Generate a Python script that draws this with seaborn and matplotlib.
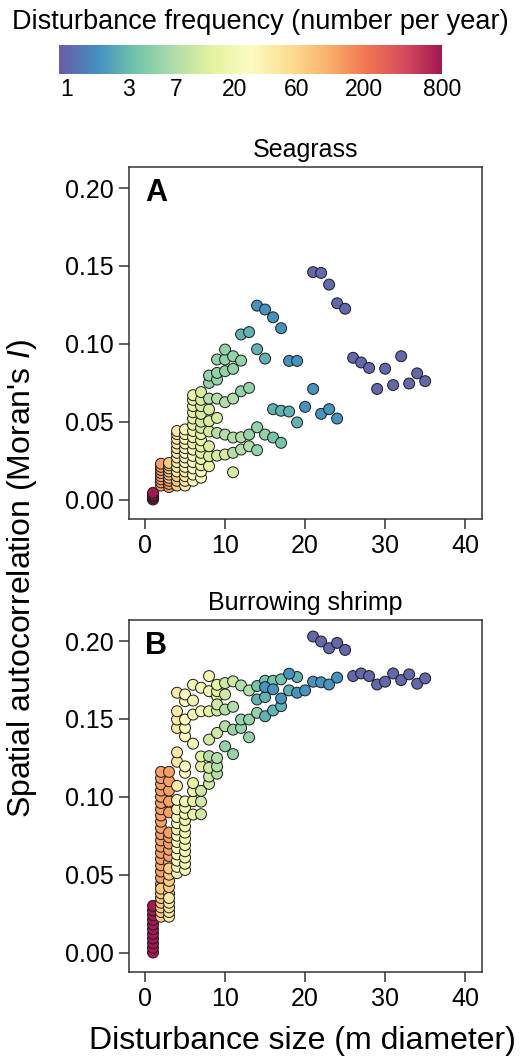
import numpy as np
import pandas as pd
import matplotlib
matplotlib.use("Agg")
import matplotlib.pyplot as plt
import seaborn as sns
from matplotlib.colors import LogNorm, ListedColormap
from matplotlib.cm import ScalarMappable
from matplotlib.ticker import NullLocator, FixedLocator

# ---------------- data ----------------
FREQ_TICKS = [1, 3, 7, 20, 60, 200, 800]
SIZE_TICKS = [0, 10, 20, 30, 40]
MORAN_TICKS = [0.00, 0.05, 0.10, 0.15, 0.20]

# Panel A: Seagrass  (size, Moran's I) per frequency level
A_800_x = [1, 1, 1, 1, 1]
A_800_y = [0.000, 0.001, 0.002, 0.003, 0.0043]
A_130_x = [2, 2, 2, 2, 2, 2, 2, 2, 3, 3, 3]
A_130_y = [0.009, 0.011, 0.013, 0.015, 0.017, 0.019, 0.021, 0.023, 0.008, 0.010, 0.012]
A_70_x = [3, 3, 3, 3, 3, 3, 4, 4, 4]
A_70_y = [0.014, 0.016, 0.018, 0.020, 0.022, 0.0235, 0.009, 0.012, 0.015]
A_40_x = [4, 4, 4, 4, 4, 4, 4, 4, 4, 4, 5, 5, 5, 5]
A_40_y = [0.018, 0.021, 0.024, 0.027, 0.030, 0.033, 0.036, 0.039, 0.042, 0.044,
          0.009, 0.012, 0.015, 0.018]
A_25_x = [5, 5, 5, 5, 5, 5, 5, 5, 5, 6, 6, 6, 6, 6, 6, 7, 7]
A_25_y = [0.021, 0.024, 0.027, 0.030, 0.033, 0.036, 0.039, 0.042, 0.045,
          0.012, 0.016, 0.020, 0.024, 0.028, 0.032, 0.014, 0.018]
A_16_x = [6, 6, 6, 6, 6, 6, 6, 6, 6, 7, 7, 7, 7, 7, 7, 8]
A_16_y = [0.036, 0.040, 0.044, 0.048, 0.052, 0.056, 0.060, 0.064, 0.067,
          0.022, 0.026, 0.030, 0.034, 0.038, 0.042, 0.0214]
A_11_x = [7, 7, 7, 7, 7, 7, 8, 8, 8, 8, 8, 9, 9, 10, 11]
A_11_y = [0.046, 0.050, 0.055, 0.060, 0.064, 0.069, 0.0278, 0.0342, 0.0437, 0.0503,
          0.0578, 0.0282, 0.0524, 0.0289, 0.0175]
A_7_x = [8, 9, 9, 10, 10, 11, 11, 11, 12, 12, 13]
A_7_y = [0.0648, 0.0428, 0.0648, 0.0417, 0.0625, 0.030, 0.0398, 0.0648, 0.0321, 0.040, 0.0342]
A_5_x = [8, 8, 9, 9, 9, 10, 10, 10, 11, 11, 12, 12, 13, 13, 14, 14, 15]
A_5_y = [0.0749, 0.0796, 0.077, 0.0813, 0.0899, 0.0824, 0.0899, 0.0963, 0.0839, 0.092,
         0.0695, 0.0892, 0.0417, 0.0717, 0.0317, 0.0464, 0.0417]
A_3_x = [16, 17]
A_3_y = [0.0398, 0.0364]
A_27_x = [12, 13, 14, 15, 16, 17, 18, 19]
A_27_y = [0.106, 0.1075, 0.0965, 0.0905, 0.058, 0.057, 0.0565, 0.0495]
A_2_x = [14, 15, 16, 17, 18, 19, 20, 21, 22, 23, 24]
A_2_y = [0.1245, 0.122, 0.117, 0.110, 0.089, 0.089, 0.0595, 0.071, 0.055, 0.058, 0.052]
A_1_x = [21, 22, 23, 24, 25, 26, 27, 28, 29, 30, 31, 32, 33, 34, 35]
A_1_y = [0.146, 0.1455, 0.138, 0.126, 0.1225, 0.091, 0.088, 0.0845, 0.071, 0.084,
         0.0735, 0.092, 0.0745, 0.081, 0.076]

# Panel B: Burrowing shrimp
B_800_x = [1, 1, 1, 1, 1, 1, 1, 1, 1, 1, 1]
B_800_y = [0.000, 0.003, 0.006, 0.009, 0.012, 0.015, 0.018, 0.021, 0.024, 0.027, 0.030]
B_130_x = [2, 2, 2, 2, 2, 2, 2, 2, 2, 2, 2, 2, 2, 2, 2, 2, 2, 2, 2,
           3, 3, 3, 3, 3, 3, 3, 3, 3, 3, 3]
B_130_y = [0.044, 0.048, 0.052, 0.056, 0.060, 0.064, 0.068, 0.072, 0.076, 0.080,
           0.084, 0.088, 0.092, 0.096, 0.100, 0.104, 0.108, 0.112, 0.116,
           0.058, 0.062, 0.066, 0.070, 0.074, 0.077, 0.090, 0.097, 0.104, 0.110, 0.116]
B_70_x = [2, 2, 2, 2, 2, 2, 2, 3, 3, 3, 3, 3]
B_70_y = [0.023, 0.026, 0.029, 0.032, 0.035, 0.038, 0.041, 0.038, 0.042, 0.046, 0.050, 0.054]
B_40_x = [3, 3, 3, 3, 3, 4, 4, 4, 4, 4, 4, 4]
B_40_y = [0.023, 0.026, 0.029, 0.032, 0.035, 0.107, 0.1225, 0.1285, 0.1442, 0.1496, 0.1549, 0.1668]
B_25_x = [4, 4, 4, 4, 4, 4, 4, 4, 4, 4, 4, 4, 5, 5, 5, 5, 5, 5, 5]
B_25_y = [0.051, 0.055, 0.059, 0.063, 0.067, 0.071, 0.075, 0.079, 0.083, 0.087, 0.092, 0.098,
          0.1154, 0.1195, 0.1388, 0.1442, 0.1496, 0.1614, 0.1657]
B_20_x = [5, 5, 5, 5, 5, 5, 5, 5, 5, 5, 5, 5, 6, 6, 6, 6, 7, 7, 8, 8]
B_20_y = [0.053, 0.057, 0.061, 0.065, 0.069, 0.073, 0.077, 0.081, 0.085, 0.089, 0.093, 0.097,
          0.1341, 0.1528, 0.1618, 0.1719, 0.1549, 0.170, 0.1678, 0.1775]
B_14_x = [6, 6, 6, 6, 7, 7, 8, 9, 9, 9]
B_14_y = [0.0886, 0.0972, 0.1036, 0.1088, 0.1195, 0.1259, 0.1549, 0.1646, 0.1678, 0.1719]
B_10_x = [7, 7, 7, 8, 8, 8, 8, 9, 9, 9, 10, 10, 11]
B_10_y = [0.0888, 0.0969, 0.1038, 0.1083, 0.113, 0.1186, 0.1367, 0.141, 0.1554, 0.1593,
          0.1657, 0.173, 0.1741]
B_7_x = [8, 9, 9, 9, 10, 10, 11, 12, 13]
B_7_y = [0.1261, 0.1148, 0.1195, 0.1249, 0.1453, 0.156, 0.1578, 0.1715, 0.1683]
B_5_x = [10, 11, 11, 12, 12, 13, 13, 14]
B_5_y = [0.1324, 0.1274, 0.1431, 0.1442, 0.1496, 0.1382, 0.1496, 0.1539]
B_3_x = [14, 15, 16, 17]
B_3_y = [0.1711, 0.1745, 0.1745, 0.1754]
B_27_x = [14, 15, 15, 16, 17, 18, 19]
B_27_y = [0.1625, 0.164, 0.1517, 0.1554, 0.1582, 0.1683, 0.1769]
B_2_x = [15, 16, 17, 18, 19, 20, 21, 22, 23, 24]
B_2_y = [0.1704, 0.169, 0.1631, 0.179, 0.1668, 0.1683, 0.1739, 0.1735, 0.1721, 0.1765]
B_1_x = [21, 22, 23, 24, 25, 26, 27, 28, 29, 30, 31, 32, 33, 34, 35]
B_1_y = [0.2029, 0.1997, 0.1954, 0.1988, 0.1943, 0.1775, 0.1792, 0.1775, 0.1721, 0.1739,
         0.1792, 0.1749, 0.1786, 0.1726, 0.176]


def build(groups):
    frames = []
    for f, xs, ys in groups:
        frames.append(pd.DataFrame({"size": xs, "moran": ys, "freq": [f] * len(xs)}))
    return pd.concat(frames, ignore_index=True)


dfA = build([(800, A_800_x, A_800_y), (130, A_130_x, A_130_y), (70, A_70_x, A_70_y),
             (40, A_40_x, A_40_y), (25, A_25_x, A_25_y), (16, A_16_x, A_16_y),
             (11, A_11_x, A_11_y), (7, A_7_x, A_7_y), (5, A_5_x, A_5_y),
             (3.5, A_3_x, A_3_y), (2.7, A_27_x, A_27_y), (1.8, A_2_x, A_2_y),
             (1, A_1_x, A_1_y)])
dfB = build([(800, B_800_x, B_800_y), (130, B_130_x, B_130_y), (70, B_70_x, B_70_y),
             (40, B_40_x, B_40_y), (25, B_25_x, B_25_y), (20, B_20_x, B_20_y),
             (14, B_14_x, B_14_y), (10, B_10_x, B_10_y), (7, B_7_x, B_7_y),
             (5, B_5_x, B_5_y), (3.5, B_3_x, B_3_y), (2.7, B_27_x, B_27_y),
             (1.8, B_2_x, B_2_y), (1, B_1_x, B_1_y)])

# ---------------- style ----------------
sns.set_theme(style="ticks")
plt.rcParams['font.family'] = ['Liberation Sans', 'DejaVu Sans']
plt.rcParams['mathtext.fontset'] = 'custom'
plt.rcParams['mathtext.rm'] = 'Liberation Sans'
plt.rcParams['mathtext.it'] = 'Liberation Sans:italic'
plt.rcParams['text.color'] = 'black'
plt.rcParams['axes.labelcolor'] = 'black'
plt.rcParams['xtick.color'] = 'black'
plt.rcParams['ytick.color'] = 'black'

W, H = 524, 1061
fig = plt.figure(figsize=(W / 100, H / 100), dpi=100)

norm = LogNorm(vmin=0.87, vmax=800)
base = plt.get_cmap("Spectral_r")(np.linspace(0, 1, 256))
soft = base.copy()
soft[:, :3] = 0.9 * base[:, :3] + 0.1 * 0.85   # slightly muted, as in the print
cmap = ListedColormap(soft)


def px_axes(l, t, r, b):
    return [l / W, 1 - b / H, (r - l) / W, (b - t) / H]


axA = fig.add_axes(px_axes(129, 167, 482, 519))
axB = fig.add_axes(px_axes(129, 620, 482, 972))

for ax, df, title, letter in [(axA, dfA, "Seagrass", "A"), (axB, dfB, "Burrowing shrimp", "B")]:
    sns.scatterplot(data=df, x="size", y="moran", hue="freq", palette=cmap,
                    hue_norm=norm, s=62, edgecolor="#1a1a1a", linewidth=0.7,
                    alpha=1, legend=False, ax=ax, zorder=3)
    ax.set_xlim(-2.0, 42.1)
    ax.set_ylim(-0.0125, 0.2135)
    ax.set_xticks(SIZE_TICKS)
    ax.set_yticks(MORAN_TICKS)
    ax.set_yticklabels([f"{v:.2f}" for v in MORAN_TICKS])
    ax.set_xlabel("")
    ax.set_ylabel("")
    for sp in ax.spines.values():
        sp.set_visible(True)
        sp.set_color("#333333")
        sp.set_linewidth(1.1)
    ax.tick_params(axis="both", direction="out", length=7, width=1.1, color="#333333",
                   labelsize=18, pad=4, labelcolor="black")
    ax.set_title(title, fontsize=18, pad=7, color="black")
    ax.text(0.045, 0.97, letter, transform=ax.transAxes, fontsize=22, fontweight="bold",
            ha="left", va="top", color="black")

# colorbar
cax = fig.add_axes(px_axes(59, 45, 442, 74))
sm = ScalarMappable(norm=norm, cmap=cmap)
cb = fig.colorbar(sm, cax=cax, orientation="horizontal")
cb.outline.set_visible(False)
cax.xaxis.set_major_locator(FixedLocator(FREQ_TICKS))
cax.xaxis.set_minor_locator(NullLocator())
cax.set_xticklabels([str(t) for t in FREQ_TICKS])
cax.tick_params(axis="x", length=0, labelsize=16.5, pad=3, labelcolor="black")

fig.text(0.496, 1 - 22 / H, "Disturbance frequency (number per year)",
         ha="center", va="center", fontsize=19.5, color="black")
fig.text(0.578, 1 - 1041 / H, "Disturbance size (m diameter)",
         ha="center", va="center", fontsize=23, color="black")
fig.text(22 / W, 1 - 578 / H, "Spatial autocorrelation (Moran's $\\mathit{I}$)",
         ha="center", va="center", rotation=90, fontsize=23, color="black")

fig.savefig("out.png", dpi=100)
